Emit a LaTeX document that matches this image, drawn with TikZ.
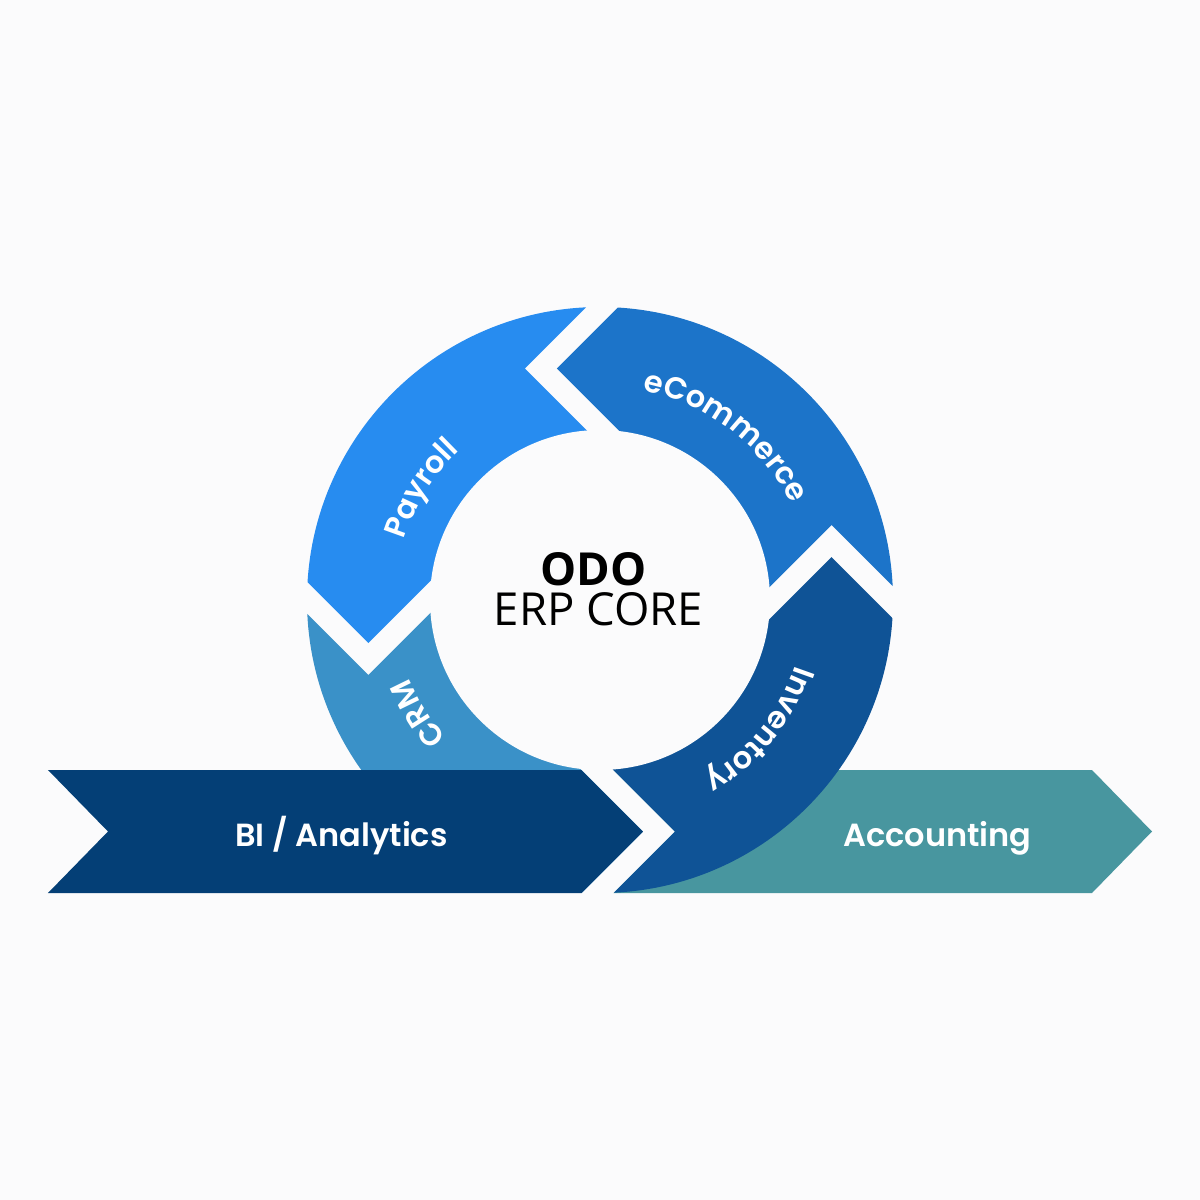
\documentclass[tikz,border=0pt]{standalone}
\usepackage{fontspec}
\usetikzlibrary{decorations.text}
\newfontfamily\pop{Poppins SemiBold}
\newfontfamily\osans{Open Sans}
\definecolor{bgc}{HTML}{FBFBFC}
\definecolor{cpay}{HTML}{278CF0}
\definecolor{cecom}{HTML}{1C74C9}
\definecolor{cinv}{HTML}{0F5396}
\definecolor{ccrm}{HTML}{3A91C8}
\definecolor{cbi}{HTML}{043F76}
\definecolor{cacc}{HTML}{48969F}
\tikzset{
  seglabel/.style={decorate, decoration={text along path, text align=center, text color=white,
    text={|\pop\fontsize{30.5}{30.5}\selectfont|#1}}},
  barlabel/.style={font=\pop\fontsize{32}{32}\selectfont, text=white, anchor=base}
}
\begin{document}
\begin{tikzpicture}[x=1pt,y=1pt]
\useasboundingbox (-600,-600) rectangle (600,600);
\fill[bgc] (-600,-600) rectangle (600,600);
% Accounting bar (under the ring)
\fill[cacc] (13.5,-170) -- (75,-231.5) -- (13.5,-293) -- (492,-293) -- (552,-231.5) -- (492,-170) -- cycle;
% ring segments
\begin{scope}
  \clip (0,0) circle[radius=293pt];
  \def\seg{(57,331.5) -- (-43,231.5) -- (57,131.5) -- (131.5,-25) -- (231.5,75) -- (331.5,-25) -- (400,-25) -- (400,400) -- (57,400) -- cycle}
  \fill[cecom] \seg;
  \fill[cinv, rotate=-90] \seg;
  \fill[ccrm, rotate=-180] \seg;
  \fill[cpay, rotate=90] \seg;
\end{scope}
\fill[bgc] (0,0) circle[radius=170pt];
% BI bar (over the ring)
\fill[cbi] (-552,-170) -- (-492,-231.5) -- (-552,-293) -- (-18.5,-293) -- (43,-231.5) -- (-18.5,-170) -- cycle;
% segment labels
\path[seglabel=Payroll] (188:205) arc[start angle=188, end angle=108, radius=205pt];
\path[seglabel=eCommerce] (92.5:214) arc[start angle=92.5, end angle=12.5, radius=214pt];
\path[seglabel=Inventory] (1:206) arc[start angle=1, end angle=-79, radius=206pt];
\path[seglabel=CRM] (252:206) arc[start angle=252, end angle=172, radius=206pt];
% bar labels
\node[barlabel] (bi) at (-258.5,-246) {BI / Analytics};
\node[barlabel] (acc) at (337.5,-246) {Accounting};
% centre
\node[font=\osans\bfseries\fontsize{45.5}{45.5}\selectfont, text=black, anchor=base] (odo) at (-6.5,15) {ODO};
\node[font=\osans\fontsize{45.5}{45.5}\selectfont, text=black, anchor=base] (erp) at (-1.5,-25) {ERP CORE};
\end{tikzpicture}
\end{document}
